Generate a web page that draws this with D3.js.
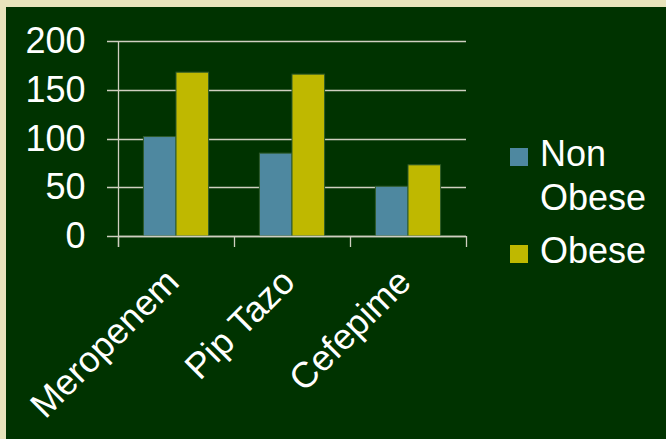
<!DOCTYPE html>
<html>
<head>
<meta charset="utf-8">
<script src="https://cdn.jsdelivr.net/npm/d3@7"></script>
<style>
  html, body { margin: 0; padding: 0; background: #E8E4BC; }
  svg { display: block; }
  text { font-family: "Liberation Sans", Arial, sans-serif; fill: #FFFFFF; }
</style>
</head>
<body>
<svg id="chart" width="666" height="439"></svg>
<script>
const categories = ["Meropenem", "Pip Tazo", "Cefepime"];
const seriesNames = ["Non Obese", "Obese"];
const nonObese = [102, 85, 51];
const obese = [168, 166, 73];
const yTicks = [0, 50, 100, 150, 200];
const seriesColors = ["#4E88A0", "#BFB800"];

const svg = d3.select("#chart");
const W = 666, H = 439;
const FS = 36;

svg.append("rect").attr("width", W).attr("height", H).attr("fill", "#E8E4BC");
svg.append("rect").attr("x", 6).attr("y", 7).attr("width", W - 6).attr("height", H - 7).attr("fill", "#003300");

const plot = { left: 118, right: 466, top: 41, bottom: 236 };
const lineColor = "#CFCFC0";

const x0 = d3.scaleBand().domain(categories).range([plot.left, plot.right]).padding(0);
const x1 = d3.scaleBand().domain(seriesNames).range([0, x0.bandwidth()])
  .paddingInner(0).paddingOuter(0.78);
const y = d3.scaleLinear().domain([0, 200]).range([plot.bottom, plot.top]);

// gridlines
svg.append("g").selectAll("line").data(yTicks).join("line")
  .attr("x1", plot.left - 11).attr("x2", plot.right)
  .attr("y1", d => Math.round(y(d)) + 0.5).attr("y2", d => Math.round(y(d)) + 0.5)
  .attr("stroke", lineColor).attr("stroke-width", 1.3);

// bars
const rows = categories.map((c, i) => ({ cat: c, vals: [nonObese[i], obese[i]] }));
const g = svg.append("g");
rows.forEach(r => {
  r.vals.forEach((v, j) => {
    g.append("rect")
      .attr("x", x0(r.cat) + x1(seriesNames[j]))
      .attr("y", y(v))
      .attr("width", x1.bandwidth())
      .attr("height", y(0) - y(v))
      .attr("fill", seriesColors[j])
      .attr("stroke", "#2E5A2A").attr("stroke-width", 1);
  });
});

// y axis
const yAxis = d3.axisLeft(y).tickValues(yTicks).tickSize(0).tickPadding(33);
const ya = svg.append("g").attr("transform", `translate(${plot.left + 0.5},0)`).call(yAxis);
ya.select(".domain").remove();
ya.selectAll("text").attr("font-size", FS).attr("fill", "#FFFFFF")
  .style("font-family", "Liberation Sans, Arial, sans-serif");
svg.append("line").attr("x1", plot.left + 0.5).attr("x2", plot.left + 0.5)
  .attr("y1", plot.top).attr("y2", plot.bottom + 11)
  .attr("stroke", lineColor).attr("stroke-width", 1.3);

// x axis
const xTickPos = categories.map(c => x0(c)).concat([x0.range()[1]]);
svg.append("line").attr("x1", plot.left).attr("x2", plot.right)
  .attr("y1", plot.bottom + 0.5).attr("y2", plot.bottom + 0.5)
  .attr("stroke", lineColor).attr("stroke-width", 1.5);
svg.append("g").selectAll("line").data(xTickPos).join("line")
  .attr("x1", d => Math.round(d) + 0.5).attr("x2", d => Math.round(d) + 0.5)
  .attr("y1", plot.bottom).attr("y2", plot.bottom + 11)
  .attr("stroke", lineColor).attr("stroke-width", 1.3);

svg.append("g").selectAll("text").data(categories).join("text")
  .attr("transform", d => `translate(${x0(d) + x0.bandwidth() / 2 + 5},${plot.bottom + 48}) rotate(-45)`)
  .attr("text-anchor", "end")
  .attr("font-size", FS)
  .text(d => d);

// legend
const leg = svg.append("g");
const legendY = [148, 245];
seriesNames.forEach((s, i) => {
  leg.append("rect").attr("x", 510).attr("y", legendY[i]).attr("width", 18).attr("height", 18)
    .attr("fill", seriesColors[i]);
  const t = leg.append("text").attr("x", 540).attr("y", legendY[i] + 18).attr("font-size", FS);
  const words = s.split(" ");
  words.forEach((w, k) => {
    t.append("tspan").attr("x", 540).attr("dy", k === 0 ? 0 : 44).text(w);
  });
});
</script>
</body>
</html>
